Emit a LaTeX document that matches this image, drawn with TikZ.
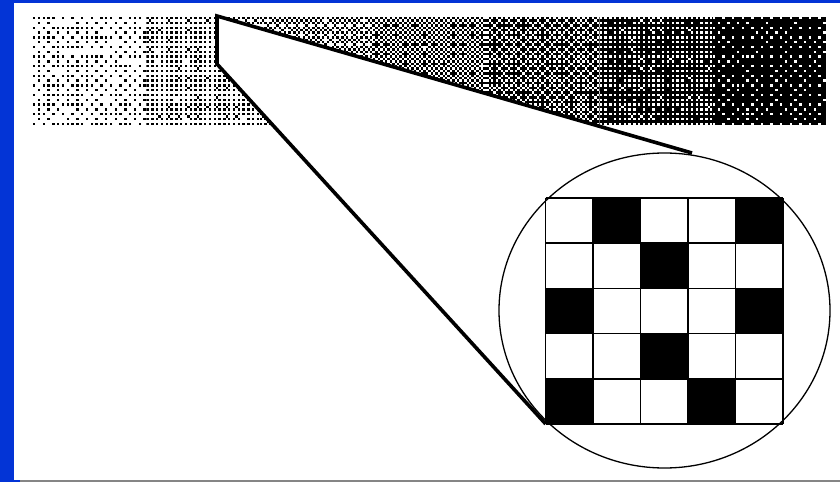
\documentclass[tikz,border=0pt]{standalone}
\usetikzlibrary{calc}
\definecolor{slide}{HTML}{0334D6}
\definecolor{rim}{HTML}{858585}

\begin{document}
\begin{tikzpicture}[x=1bp, y=-1bp,
    lens/.style={line width=3.6bp, line join=miter, line cap=butt},
    cell/.style={draw=black, line width=1.4bp},
    ring/.style={draw=black, line width=1.3bp, fill=white}]
  \useasboundingbox (0,0) rectangle (840,482);
  \fill[slide] (0,0) rectangle (840,482);
  \fill[white] (14,3) rectangle (840,480);
  \fill[rim] (20,480) rectangle (840,482);
  % dithered tone bar, seven steps (ordered dither with a little noise)
  \pgfmathsetseed{1971}
  \foreach \k/\d in {0/0.14,1/0.27,2/0.41,3/0.52,4/0.63,5/0.76,6/0.9}{
    \pgfmathsetmacro\xo{33+113.3*\k}
    \begin{scope}
      \clip (\xo,17) rectangle ++(113.3,108);
      \ifdim\d pt>0.5pt
        \fill[black] (\xo,17) rectangle ++(113.3,108);
        \pgfmathsetmacro\p{1-\d}\def\ink{white}
      \else
        \pgfmathsetmacro\p{\d}\def\ink{black}
      \fi
      \foreach \a/\b/\t in {0/0/0,1/0/8,2/0/2,3/0/10,0/1/12,1/1/4,2/1/14,3/1/6,
                            0/2/3,1/2/11,2/2/1,3/2/9,0/3/15,1/3/7,2/3/13,3/3/5}{
        \foreach \I in {0,...,11}{
          \foreach \J in {0,...,11}{
            \pgfmathsetmacro\thr{(\t+0.5)/16+0.12*(rnd-0.5)}
            \ifdim\thr pt<\p pt
              \fill[\ink] ({\xo+2.4*(4*\I+\a)},{17+2.4*(4*\J+\b)}) rectangle ++(2.4,2.4);
            \fi
          }
        }
      }
    \end{scope}
  }
  % the magnifier
  \coordinate (lensTL) at (217,16);
  \coordinate (lensBL) at (217,64);
  \coordinate (lensTR) at (692,153);
  \coordinate (zoom) at (664.5,310.5);
  \coordinate (gridNW) at (545.7,198);
  \coordinate (gridSW) at (545.7,424);
  \fill[white] (lensTL) -- (lensTR) -- (gridSW) -- (lensBL) -- cycle;
  \draw[ring] (zoom) ellipse [x radius=165.5bp, y radius=157.5bp];
  \begin{scope}[shift={(gridNW)}, x=47.46bp, y=-45.2bp]
    \foreach \r/\c in {0/1,0/4,1/2,2/0,2/4,3/2,4/0,4/3}
      \fill[black] (\c,\r) rectangle ++(1,1);
    \foreach \i in {0,...,5}{
      \draw[cell] (\i,0) -- (\i,5);
      \draw[cell] (0,\i) -- (5,\i);
    }
  \end{scope}
  \draw[lens] (lensTR) -- (lensTL) -- (lensBL) -- (gridSW);
\end{tikzpicture}
\end{document}
